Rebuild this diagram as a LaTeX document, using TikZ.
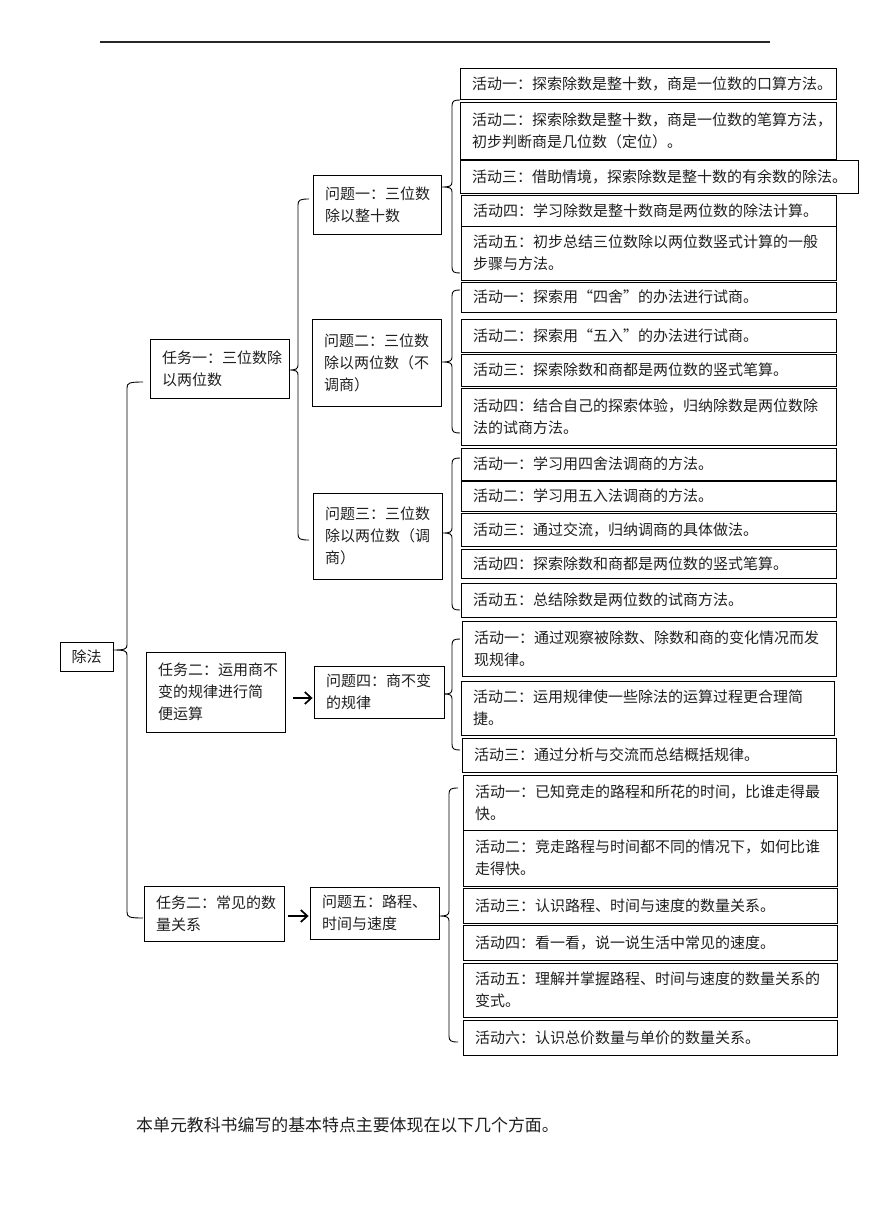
\documentclass[tikz,border=0pt]{standalone}
\usepackage{fontspec}
\setmainfont{Noto Sans CJK SC}
\usetikzlibrary{arrows.meta}
\newcommand\boxfont{\fontsize{15pt}{22pt}\selectfont}
\tikzset{
  box/.style={draw, line width=0.9pt, inner xsep=12pt, inner ysep=0pt, align=left, anchor=center, font=\boxfont, text=black!88},
  bracepath/.style={draw, line width=0.9pt},
  arr/.style={line width=1.7pt, -{Straight Barb[length=6.5pt,width=12pt,line width=1.7pt]}},
}
% name x1 y1 x2 y2 text
\newcommand\bx[6]{%
  \pgfmathsetmacro\bw{#4-#2}\pgfmathsetmacro\bh{#5-#3}\pgfmathsetmacro\tw{#4-#2-24}%
  \node[box, minimum width=\bw pt, minimum height=\bh pt, text width=\tw pt] (#1) at ({(#2+#4)/2},{(#3+#5)/2}) {#6};%
}
% name x top tipy bottom tipx hook
\newcommand\brc[7]{%
  \coordinate (#1-top) at ({#2+#7},#3);
  \coordinate (#1-tip) at (#6,#4);
  \coordinate (#1-bot) at ({#2+#7},#5);
  \draw[bracepath] (#1-top) .. controls ({#2+2},#3) and (#2,{#3+1}) .. (#2,{#3+6})
     -- (#2,{#4-5}) .. controls (#2,{#4-1}) and ({#2-2},#4) .. (#1-tip)
     .. controls ({#2-2},#4) and (#2,{#4+1}) .. (#2,{#4+5})
     -- (#2,{#5-6}) .. controls (#2,{#5-1}) and ({#2+2},#5) .. (#1-bot);%
}
\begin{document}
\begin{tikzpicture}[x=1pt,y=-1pt]
\useasboundingbox (0,0) rectangle (870,1230);
\coordinate (ruleL) at (100,42);
\coordinate (ruleR) at (770,42);
\draw[line width=1.3pt, black!85] (ruleL) -- (ruleR);

% root
\node[draw, line width=0.9pt, minimum width=53pt, minimum height=29pt, inner sep=0pt, font=\boxfont, text=black!88] (root) at (86.5,656.5) {除法};

% tasks
\bx{t1}{150}{339}{289}{398}{任务一：三位数除\\以两位数}
\bx{t2}{146}{652}{285}{732}{任务二：运用商不\\变的规律进行简\\便运算}
\bx{t3}{144}{886}{284}{941}{任务二：常见的数\\量关系}

% questions
\bx{q1}{313}{175}{441}{234}{问题一：三位数\\除以整十数}
\bx{q2}{312}{319}{441}{406}{问题二：三位数\\除以两位数（不\\调商）}
\bx{q3}{313}{493}{442}{579}{问题三：三位数\\除以两位数（调\\商）}
\bx{q4}{314}{666}{444}{718}{问题四：商不变\\的规律}
\bx{q5}{310}{887}{439}{939}{问题五：路程、\\时间与速度}

% group 1
\bx{a11}{460}{68}{836}{99}{活动一：探索除数是整十数，商是一位数的口算方法。}
\bx{a12}{460}{102}{836}{159}{活动二：探索除数是整十数，商是一位数的笔算方法，\\初步判断商是几位数（定位）。}
\bx{a13}{460}{160}{858}{193}{活动三：借助情境，探索除数是整十数的有余数的除法。}
\bx{a14}{461}{195}{836}{226}{活动四：学习除数是整十数商是两位数的除法计算。}
\bx{a15}{461}{226}{836}{280}{活动五：初步总结三位数除以两位数竖式计算的一般\\步骤与方法。}

% group 2
\bx{a21}{461}{282}{836}{312}{活动一：探索用“四舍”的办法进行试商。}
\bx{a22}{461}{319}{836}{352}{活动二：探索用“五入”的办法进行试商。}
\bx{a23}{461}{354}{836}{386}{活动三：探索除数和商都是两位数的竖式笔算。}
\bx{a24}{461}{388}{836}{445}{活动四：结合自己的探索体验，归纳除数是两位数除\\法的试商方法。}

% group 3
\bx{a31}{461}{448}{836}{480}{活动一：学习用四舍法调商的方法。}
\bx{a32}{461}{481}{836}{511}{活动二：学习用五入法调商的方法。}
\bx{a33}{461}{513}{836}{546}{活动三：通过交流，归纳调商的具体做法。}
\bx{a34}{461}{549}{836}{578}{活动四：探索除数和商都是两位数的竖式笔算。}
\bx{a35}{461}{583}{836}{617}{活动五：总结除数是两位数的试商方法。}

% group 4
\bx{a41}{462}{621}{836}{676}{活动一：通过观察被除数、除数和商的变化情况而发\\现规律。}
\bx{a42}{461}{681}{834}{735}{活动二：运用规律使一些除法的运算过程更合理简\\捷。}
\bx{a43}{462}{738}{836}{772}{活动三：通过分析与交流而总结概括规律。}

% group 5
\bx{a51}{463}{775}{837}{830}{活动一：已知竞走的路程和所花的时间，比谁走得最\\快。}
\bx{a52}{463}{830}{837}{886}{活动二：竞走路程与时间都不同的情况下，如何比谁\\走得快。}
\bx{a53}{463}{888}{837}{923}{活动三：认识路程、时间与速度的数量关系。}
\bx{a54}{463}{925}{837}{960}{活动四：看一看，说一说生活中常见的速度。}
\bx{a55}{463}{963}{837}{1017}{活动五：理解并掌握路程、时间与速度的数量关系的\\变式。}
\bx{a56}{463}{1020}{837}{1055}{活动六：认识总价数量与单价的数量关系。}

% braces
\brc{broot}{127}{382}{650}{918}{113}{16}
\brc{bt1}{298}{199}{370}{540}{289}{11}
\brc{bq1}{452}{100}{187}{273}{442}{8}
\brc{bq2}{452}{290}{362}{433}{442}{8}
\brc{bq3}{452}{458}{533}{610}{443}{8}
\brc{bq4}{452}{639}{694}{750}{444}{8}
\brc{bq5}{449}{788}{916}{1042}{439}{9}

% arrows
\draw[arr, shorten <=8pt, shorten >=1pt] ([yshift=-6pt]t2.east) -- ([yshift=-6pt]t2.east -| q4.west);
\draw[arr, shorten <=4pt, shorten >=1pt] ([yshift=-2.5pt]t3.east) -- ([yshift=-2.5pt]t3.east -| q5.west);

% bottom text
\node[anchor=west, inner sep=0pt, font=\fontsize{16.9pt}{20pt}\selectfont, text=black!88] (foot) at (136,1125) {本单元教科书编写的基本特点主要体现在以下几个方面。};
\end{tikzpicture}
\end{document}
